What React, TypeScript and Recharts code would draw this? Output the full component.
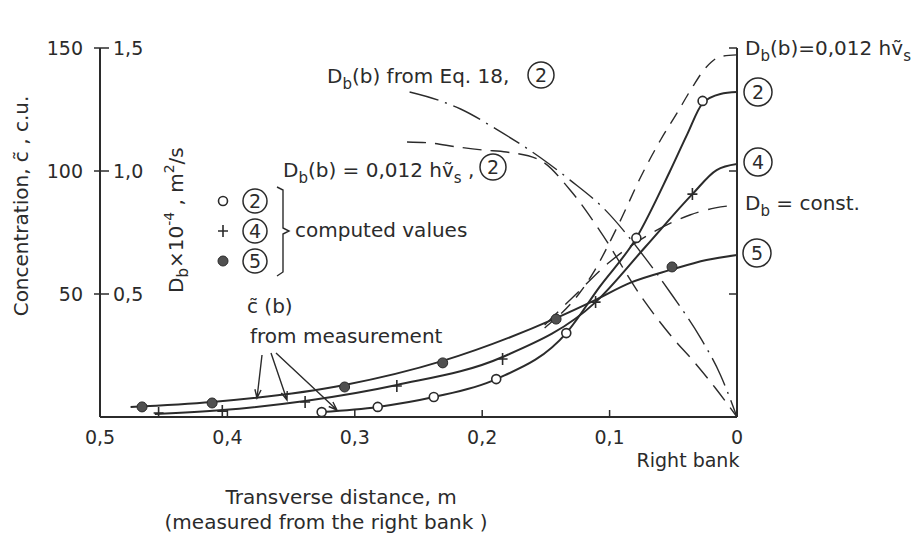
import React from 'react';
import { ComposedChart, Line, Scatter, XAxis, YAxis } from 'recharts';

const INK = '#2b2b2b';
const FONT = '"DejaVu Sans", sans-serif';

// transverse distance b (m), measured from the right bank
const distanceTicks = [0.5, 0.4, 0.3, 0.2, 0.1, 0];
const innerDistanceTicks = [0.4, 0.3, 0.2, 0.1];
// concentration c (c.u.) and D_b (x10^-4 m2/s)
const concTicks = [50, 100, 150];
const dbTicks = [0.5, 1.0, 1.5];

// solid curves, c~(b) from measurement
const curve2Line = [
  { b: 0.326, c: 2.0 }, { b: 0.282, c: 4.1 }, { b: 0.238, c: 8.1 }, { b: 0.189, c: 15.4 },
  { b: 0.134, c: 34.1 }, { b: 0.108, c: 52.8 }, { b: 0.079, c: 72.8 }, { b: 0.053, c: 99.5 },
  { b: 0.039, c: 115 }, { b: 0.027, c: 127.5 }, { b: 0.013, c: 131.3 }, { b: 0, c: 132.1 },
];
const curve4Line = [
  { b: 0.457, c: 1.2 }, { b: 0.404, c: 2.8 }, { b: 0.339, c: 6.5 }, { b: 0.267, c: 13.0 },
  { b: 0.184, c: 24.4 }, { b: 0.111, c: 46.7 }, { b: 0.072, c: 69.1 }, { b: 0.035, c: 90.6 },
  { b: 0.016, c: 100.4 }, { b: 0, c: 102.8 },
];
const curve5Line = [
  { b: 0.476, c: 4.1 }, { b: 0.412, c: 6.1 }, { b: 0.308, c: 13.0 }, { b: 0.231, c: 22.8 },
  { b: 0.142, c: 40.2 }, { b: 0.111, c: 47.6 }, { b: 0.084, c: 54.5 }, { b: 0.052, c: 59.8 },
  { b: 0.024, c: 63.8 }, { b: 0, c: 65.9 },
];

// computed values
const computed2 = [
  { b: 0.326, c: 2.0 }, { b: 0.282, c: 4.1 }, { b: 0.238, c: 8.1 }, { b: 0.189, c: 15.4 },
  { b: 0.134, c: 34.1 }, { b: 0.079, c: 72.8 }, { b: 0.027, c: 128.5 },
];
const computed4 = [
  { b: 0.454, c: 1.6 }, { b: 0.404, c: 2.4 }, { b: 0.339, c: 6.1 }, { b: 0.267, c: 12.6 },
  { b: 0.184, c: 23.6 }, { b: 0.111, c: 46.7 }, { b: 0.035, c: 90.6 },
];
const computed5 = [
  { b: 0.467, c: 4.1 }, { b: 0.412, c: 5.7 }, { b: 0.308, c: 12.2 }, { b: 0.231, c: 22.0 },
  { b: 0.142, c: 39.8 }, { b: 0.051, c: 61.0 },
];

// dashed concentration curves
const cVariableDb = [
  { b: 0.151, c: 36.2 }, { b: 0.123, c: 50.8 }, { b: 0.113, c: 58.5 }, { b: 0.094, c: 77.2 },
  { b: 0.074, c: 99.2 }, { b: 0.06, c: 112.6 }, { b: 0.047, c: 123.6 }, { b: 0.035, c: 134.1 },
  { b: 0.024, c: 142.3 }, { b: 0.013, c: 146.5 }, { b: 0, c: 147.2 },
];
const cConstDb = [
  { b: 0.151, c: 37.4 }, { b: 0.127, c: 49.6 }, { b: 0.1, c: 63.0 }, { b: 0.076, c: 72.0 },
  { b: 0.057, c: 77.6 }, { b: 0.037, c: 82.1 }, { b: 0.017, c: 85.0 }, { b: 0, c: 86.2 },
];

// D_b(b) curves, case 2
const dbEq18 = [
  { b: 0.257, d: 1.321 }, { b: 0.235, d: 1.289 }, { b: 0.217, d: 1.252 }, { b: 0.188, d: 1.167 },
  { b: 0.155, d: 1.057 }, { b: 0.131, d: 0.963 }, { b: 0.105, d: 0.85 }, { b: 0.072, d: 0.646 },
  { b: 0.051, d: 0.496 }, { b: 0.029, d: 0.325 }, { b: 0.013, d: 0.171 }, { b: 0, d: 0 },
];
const dbVelocity = [
  { b: 0.259, d: 1.118 }, { b: 0.241, d: 1.114 }, { b: 0.22, d: 1.098 }, { b: 0.199, d: 1.085 },
  { b: 0.181, d: 1.077 }, { b: 0.155, d: 1.045 }, { b: 0.131, d: 0.923 }, { b: 0.108, d: 0.76 },
  { b: 0.075, d: 0.488 }, { b: 0.051, d: 0.325 }, { b: 0.033, d: 0.22 }, { b: 0.017, d: 0.118 },
  { b: 0, d: 0 },
];

const comma = (v: number) => (v === 0 ? '0' : v.toFixed(1).replace('.', ','));

const HollowDot = (p: any) => (
  <circle cx={p.cx} cy={p.cy} r={4.5} fill="#fff" stroke={INK} strokeWidth={1.6} />
);
const PlusMark = (p: any) => (
  <path d={`M${p.cx - 5},${p.cy}H${p.cx + 5}M${p.cx},${p.cy - 6}V${p.cy + 6}`} stroke={INK} strokeWidth={1.6} />
);
const FilledDot = (p: any) => (
  <circle cx={p.cx} cy={p.cy} r={5} fill="#505050" stroke={INK} strokeWidth={1} />
);

const Circled = ({ x, y, n, r = 12 }: { x: number; y: number; n: string; r?: number }) => (
  <g>
    <circle cx={x} cy={y} r={r} fill="none" stroke={INK} strokeWidth={1.5} />
    <text x={x} y={y + 7} textAnchor="middle" fontSize={19}>{n}</text>
  </g>
);

const Arrow = ({ x1, y1, x2, y2 }: { x1: number; y1: number; x2: number; y2: number }) => {
  const a = Math.atan2(y2 - y1, x2 - x1);
  const h = 9;
  const p1 = [x2 - h * Math.cos(a - 0.35), y2 - h * Math.sin(a - 0.35)];
  const p2 = [x2 - h * Math.cos(a + 0.35), y2 - h * Math.sin(a + 0.35)];
  return (
    <path
      d={`M${x1},${y1}L${x2},${y2}M${p1[0]},${p1[1]}L${x2},${y2}L${p2[0]},${p2[1]}`}
      fill="none" stroke={INK} strokeWidth={1.4}
    />
  );
};

const Annotations = () => (
  <svg
    width={919} height={553} xmlSpace="preserve"
    style={{ position: 'absolute', left: 0, top: 0, pointerEvents: 'none', whiteSpace: 'pre' }}
    fontFamily={FONT} fill={INK}
  >
    {/* axis titles */}
    <text transform="rotate(-90 28 206)" x={28} y={206} textAnchor="middle" fontSize={20}>
      Concentration, c&#771; , c.u.
    </text>
    <text transform="rotate(-90 183 293)" x={183} y={293} fontSize={20}>
      D<tspan dy={5} fontSize={15}>b</tspan>
      <tspan dy={-5}>×10</tspan>
      <tspan dy={-9} fontSize={14}>-4</tspan>
      <tspan dy={9}> ,  m</tspan>
      <tspan dy={-9} fontSize={14}>2</tspan>
      <tspan dy={9}>/s</tspan>
    </text>
    <text x={341} y={504} textAnchor="middle" fontSize={20}>{'Transverse   distance,   m'}</text>
    <text x={326} y={529} textAnchor="middle" fontSize={20}>(measured from the right bank )</text>
    <text x={688} y={467} textAnchor="middle" fontSize={19}>Right bank</text>

    {/* curve captions, top */}
    <text x={327} y={83} fontSize={20}>
      D<tspan dy={6} fontSize={15}>b</tspan>
      <tspan dy={-6}>(b) from Eq. 18,</tspan>
    </text>
    <Circled x={541} y={75} n="2" r={13} />
    <text x={283} y={177} fontSize={20}>
      D<tspan dy={6} fontSize={15}>b</tspan>
      <tspan dy={-6}>(b) = 0,012 hv&#771;</tspan>
      <tspan dy={6} fontSize={15}>s</tspan>
      <tspan dy={-6}> ,</tspan>
    </text>
    <Circled x={493} y={167} n="2" r={13} />

    {/* legend of computed values */}
    <HollowDot cx={223} cy={201} />
    <PlusMark cx={223} cy={231} />
    <FilledDot cx={223} cy={261} />
    <Circled x={255} y={201} n="2" />
    <Circled x={255} y={231} n="4" />
    <Circled x={255} y={261} n="5" />
    <path d="M277,187L283,190L283,228L289,231L283,234L283,272L277,276" fill="none" stroke={INK} strokeWidth={1.4} />
    <text x={295} y={237} fontSize={20}>{'computed  values'}</text>

    {/* measurement note */}
    <text x={247} y={313} fontSize={20}>c&#771; (b)</text>
    <text x={250} y={343} fontSize={20}>{'from  measurement'}</text>
    <Arrow x1={262} y1={355} x2={257} y2={398} />
    <Arrow x1={271} y1={353} x2={287} y2={400} />
    <Arrow x1={276} y1={353} x2={337} y2={410} />

    {/* right-hand labels */}
    <text x={745} y={55} fontSize={20}>
      D<tspan dy={6} fontSize={15}>b</tspan>
      <tspan dy={-6}>(b)=0,012 hv&#771;</tspan>
      <tspan dy={6} fontSize={15}>s</tspan>
    </text>
    <Circled x={758} y={92} n="2" r={14} />
    <Circled x={758} y={162} n="4" r={14} />
    <text x={745} y={210} fontSize={20}>
      D<tspan dy={6} fontSize={15}>b</tspan>
      <tspan dy={-6}> = const.</tspan>
    </text>
    <Circled x={757} y={253} n="5" r={14} />
  </svg>
);

export default function App() {
  const tickStyle = { fill: INK, fontSize: 19, fontFamily: FONT };
  return (
    <div style={{ position: 'relative', width: 919, height: 553, background: '#fff' }}>
      <style>{'body{margin:0}'}</style>
      <ComposedChart width={919} height={553} margin={{ top: 48, right: 182, bottom: 96, left: 40 }}>
        <XAxis
          dataKey="b" type="number" domain={[0, 0.5]} reversed allowDataOverflow
          ticks={distanceTicks} tickFormatter={comma} height={40}
          tickLine={false} tickSize={0} tickMargin={14}
          axisLine={{ stroke: INK, strokeWidth: 2 }} tick={tickStyle}
        />
        <XAxis
          xAxisId="inner" dataKey="b" type="number" domain={[0, 0.5]} reversed allowDataOverflow
          mirror ticks={innerDistanceTicks} tickFormatter={() => ''} tickSize={7}
          axisLine={false} tickLine={{ stroke: INK, strokeWidth: 1.5 }}
        />
        <YAxis
          yAxisId="c" type="number" domain={[0, 150]} allowDataOverflow ticks={concTicks}
          width={60} tickSize={6} tickMargin={11}
          axisLine={{ stroke: INK, strokeWidth: 2 }} tickLine={{ stroke: INK, strokeWidth: 1.5 }} tick={tickStyle}
        />
        <YAxis
          yAxisId="db" type="number" domain={[0, 1.5]} allowDataOverflow ticks={dbTicks}
          mirror tickFormatter={comma} tickSize={9} tickMargin={4}
          axisLine={false} tickLine={{ stroke: INK, strokeWidth: 1.5 }} tick={tickStyle}
        />
        <YAxis
          yAxisId="right" orientation="right" type="number" domain={[0, 150]} allowDataOverflow
          ticks={concTicks} mirror tickFormatter={() => ''} tickSize={8}
          axisLine={{ stroke: INK, strokeWidth: 2 }} tickLine={{ stroke: INK, strokeWidth: 1.5 }}
        />

        <Line yAxisId="db" data={dbEq18} dataKey="d" type="monotone" stroke={INK} strokeWidth={1.4}
          strokeDasharray="30 7 2 7" dot={false} activeDot={false} isAnimationActive={false} />
        <Line yAxisId="db" data={dbVelocity} dataKey="d" type="monotone" stroke={INK} strokeWidth={1.4}
          strokeDasharray="19 9" dot={false} activeDot={false} isAnimationActive={false} />
        <Line yAxisId="c" data={cVariableDb} dataKey="c" type="monotone" stroke={INK} strokeWidth={1.4}
          strokeDasharray="13 9" dot={false} activeDot={false} isAnimationActive={false} />
        <Line yAxisId="c" data={cConstDb} dataKey="c" type="monotone" stroke={INK} strokeWidth={1.4}
          strokeDasharray="19 10" dot={false} activeDot={false} isAnimationActive={false} />

        <Line yAxisId="c" data={curve2Line} dataKey="c" type="monotone" stroke={INK} strokeWidth={2}
          dot={false} activeDot={false} isAnimationActive={false} />
        <Line yAxisId="c" data={curve4Line} dataKey="c" type="monotone" stroke={INK} strokeWidth={2}
          dot={false} activeDot={false} isAnimationActive={false} />
        <Line yAxisId="c" data={curve5Line} dataKey="c" type="monotone" stroke={INK} strokeWidth={2}
          dot={false} activeDot={false} isAnimationActive={false} />

        <Scatter yAxisId="c" data={computed2} dataKey="c" shape={HollowDot} isAnimationActive={false} />
        <Scatter yAxisId="c" data={computed4} dataKey="c" shape={PlusMark} isAnimationActive={false} />
        <Scatter yAxisId="c" data={computed5} dataKey="c" shape={FilledDot} isAnimationActive={false} />
      </ComposedChart>
      <Annotations />
    </div>
  );
}
